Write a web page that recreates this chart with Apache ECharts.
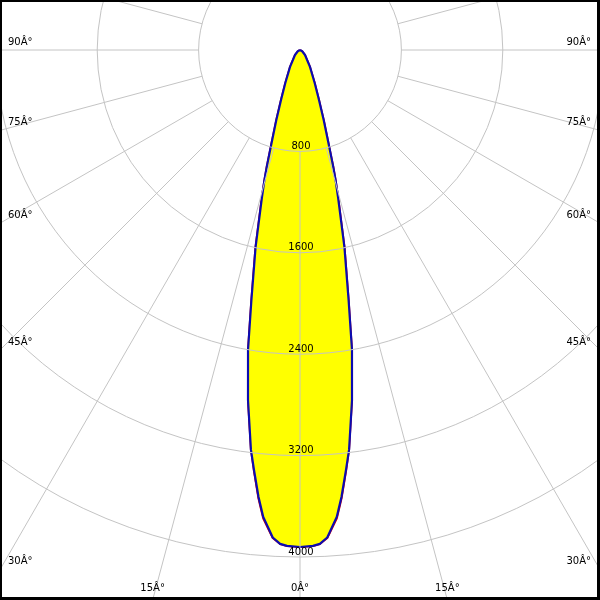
<!DOCTYPE html>
<html><head><meta charset="utf-8">
<script src="https://cdn.jsdelivr.net/npm/echarts@6/dist/echarts.min.js"></script>
<style>html,body{margin:0;padding:0;background:#fff}#c{width:600px;height:600px}</style>
</head><body><div id="c"></div>
<script>
// Beam angles (degrees from nadir) and luminous intensity (cd)
const beamAngles    = [0, 1.5, 2.3, 3.2, 4.5, 5.3, 6.25, 7.0, 8.45, 9.83, 11.0, 12.7, 14.5, 15.3, 15.9, 16.8, 18.7, 20.8, 24.0, 30.5, 45, 60, 75, 90];
const blueIntensity = [3921, 3914, 3900, 3852, 3695, 3542, 3333, 3177, 2792, 2402, 2009, 1594, 1198, 1064, 957, 797, 583, 422, 285, 155, 56, 20, 8, 0];
const redIntensity  = [3921, 3914, 3900, 3856, 3706, 3552, 3340, 3177, 2792, 2402, 2012, 1600, 1202, 1064, 957, 797, 583, 422, 285, 155, 56, 20, 8, 0];
const radiusTicks = [800, 1600, 2400, 3200, 4000];
const angleTicks = [0, 15, 30, 45, 60, 75, 90];
const angleTickLabels = ['0Â°', '15Â°', '30Â°', '45Â°', '60Â°', '75Â°', '90Â°'];

const CX = 300, CY = 50, R = 507;
const FONT = 'DejaVu Sans';

function buildCurve(vals) {
  const out = [];
  for (let i = beamAngles.length - 1; i >= 1; i--) out.push([vals[i], 360 - beamAngles[i]]);
  for (let i = 0; i < beamAngles.length; i++) out.push([vals[i], beamAngles[i]]);
  return out;
}

const rMax = radiusTicks[radiusTicks.length - 1];
const rStep = radiusTicks[0];

// angle labels placed where each spoke meets the picture edge
const graphics = [];
angleTicks.forEach((a, i) => {
  const t = a * Math.PI / 180;
  if (a >= 30) {
    const y = CY + (a === 90 ? 0 : 300 / Math.tan(t)) - 8;
    graphics.push({type: 'text', z: 50, style: {text: angleTickLabels[i], x: 8, y: y, align: 'left', verticalAlign: 'middle', fill: '#000', font: '10px "' + FONT + '"'}});
    graphics.push({type: 'text', z: 50, style: {text: angleTickLabels[i], x: 591, y: y, align: 'right', verticalAlign: 'middle', fill: '#000', font: '10px "' + FONT + '"'}});
  } else {
    const dx = 550 * Math.tan(t);
    const xs = a === 0 ? [CX] : [CX - dx, CX + dx];
    xs.forEach(x => graphics.push({type: 'text', z: 50, style: {text: angleTickLabels[i], x: x, y: 588, align: 'center', verticalAlign: 'middle', fill: '#000', font: '10px "' + FONT + '"'}}));
  }
});
// frame
[[0,0,2,600],[0,0,600,2],[597,0,3,600],[0,597,600,3]].forEach(r => graphics.push({type:'rect', z: 100, shape:{x:r[0],y:r[1],width:r[2],height:r[3]}, style:{fill:'#000'}}));

const grid = '#c4c4c4';
const chart = echarts.init(document.getElementById('c'), null, {renderer: 'canvas'});
chart.setOption({
  animation: false,
  backgroundColor: '#fff',
  polar: [
    {center: [CX, CY], radius: [R * rStep / rMax, 800]},
    {center: [CX, CY], radius: R}
  ],
  angleAxis: [
    {polarIndex: 0, type: 'value', min: 0, max: 360, interval: 15, startAngle: 270, z: 10,
     axisLine: {show: false}, axisTick: {show: false}, axisLabel: {show: false},
     splitLine: {show: true, lineStyle: {color: grid, width: 1}}},
    {polarIndex: 1, type: 'value', min: 0, max: 360, interval: 15, startAngle: 270,
     axisLine: {show: false}, axisTick: {show: false}, axisLabel: {show: false}, splitLine: {show: false}}
  ],
  radiusAxis: [
    {polarIndex: 0, type: 'value', min: 0, max: 1,
     axisLine: {show: false}, axisTick: {show: false}, axisLabel: {show: false}, splitLine: {show: false}},
    {polarIndex: 1, type: 'value', min: 0, max: rMax, interval: rStep, z: 10,
     axisLine: {show: false}, axisTick: {show: false},
     splitLine: {show: true, lineStyle: {color: grid, width: 1}},
     axisLabel: {show: true, showMinLabel: false, margin: 1, align: 'center', verticalAlign: 'bottom',
                 color: '#000', fontSize: 10, fontFamily: FONT,
                 formatter: v => radiusTicks.includes(v) ? String(v) : ''}}
  ],
  series: [
    {type: 'line', coordinateSystem: 'polar', polarIndex: 1, data: buildCurve(redIntensity),
     symbol: 'none', smooth: false, z: 2, lineStyle: {color: '#e00000', width: 2}},
    {type: 'line', coordinateSystem: 'polar', polarIndex: 1, data: buildCurve(blueIntensity),
     symbol: 'none', smooth: false, z: 3, lineStyle: {color: '#0c0cb0', width: 2.2, join: 'round'},
     areaStyle: {color: '#ffff00', opacity: 1}}
  ],
  graphic: graphics
});
</script></body></html>
